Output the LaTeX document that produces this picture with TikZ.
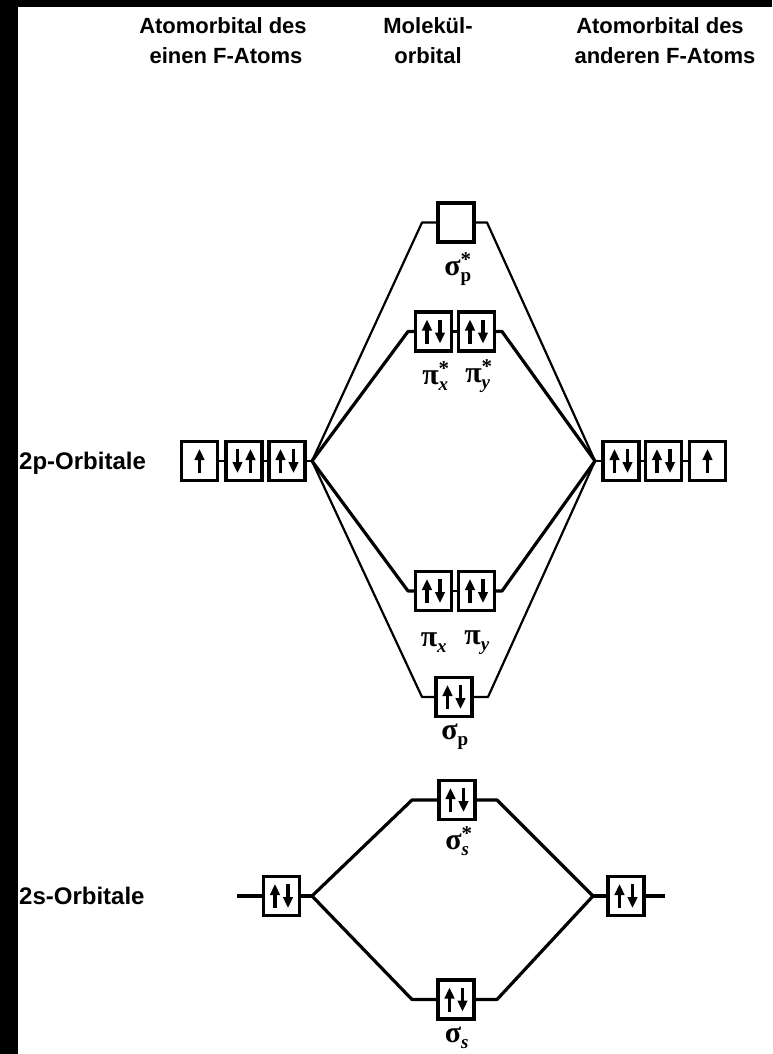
\documentclass[tikz,border=0pt]{standalone}
\usepackage{fontspec}
\setmainfont{Liberation Sans}
\newfontfamily\grf{Liberation Serif}
\usetikzlibrary{arrows.meta}
\newcommand{\molab}[3]{\fontsize{30}{32}\selectfont$\hbox{\grf\bfseries #1}_{\hbox{\grf\bfseries\fontsize{19}{19}\selectfont #2}}^{\hbox{\grf\bfseries\fontsize{21}{21}\selectfont #3}}$}
\tikzset{
  orb/.style={draw, line width=3.2pt, minimum width=36pt, minimum height=39pt, inner sep=0pt, fill=white},
  earrow/.style={line width=3.2pt, -{Triangle[width=9.5pt,length=11pt]}},
  eU/.style={path picture={\draw[earrow] ([yshift=-12pt]path picture bounding box.center) -- ++(0,24pt);}},
  eUD/.style={path picture={
      \draw[earrow] ([xshift=-6.5pt,yshift=-12pt]path picture bounding box.center) -- ++(0,24pt);
      \draw[earrow] ([xshift=6.5pt,yshift=12pt]path picture bounding box.center) -- ++(0,-24pt);}},
  eDU/.style={path picture={
      \draw[earrow] ([xshift=-6.5pt,yshift=12pt]path picture bounding box.center) -- ++(0,-24pt);
      \draw[earrow] ([xshift=6.5pt,yshift=-12pt]path picture bounding box.center) -- ++(0,24pt);}},
  hdr/.style={font=\fontsize{22}{22}\selectfont\bfseries, inner sep=0pt},
  hdrside/.style={font=\fontsize{24}{24}\selectfont\bfseries, inner sep=0pt},
  mol/.style={inner sep=0pt},
  thinline/.style={line width=2.2pt, line join=round},
  thickline/.style={line width=3.2pt, line join=round},
}
\begin{document}
\begin{tikzpicture}[x=1pt,y=-1pt]
\useasboundingbox (0,0) rectangle (772,1054);
\fill[black] (0,0) rectangle (772,1054);
\fill[white] (18,7) rectangle (772,1054);

% headers
\node[hdr, anchor=base] (h1a) at (223,34) {Atomorbital des};
\node[hdr, anchor=base] (h1b) at (226,64) {einen F-Atoms};
\node[hdr, anchor=base] (h2a) at (428,34) {Molekül-};
\node[hdr, anchor=base] (h2b) at (428,64) {orbital};
\node[hdr, anchor=base] (h3a) at (660,34) {Atomorbital des};
\node[hdr, anchor=base] (h3b) at (665,64) {anderen F-Atoms};

% side labels
\node[hdrside, anchor=base west] (l2p) at (19,469) {2p-Orbitale};
\node[hdrside, anchor=base west] (l2s) at (19,904) {2s-Orbitale};

% junction coordinates
\coordinate (L2p) at (312,461);
\coordinate (R2p) at (595,461);
\coordinate (L2s) at (312,896);
\coordinate (R2s) at (593,896);
\coordinate (spstL) at (422,222.5);
\coordinate (spstR) at (487,222.5);
\coordinate (pxstL) at (408,331.5);
\coordinate (pystR) at (502,331.5);
\coordinate (pxL) at (408,591);
\coordinate (pyR) at (502,591);
\coordinate (spL) at (422,697);
\coordinate (spR) at (488,697);
\coordinate (ssstL) at (412,800);
\coordinate (ssstR) at (497,800);
\coordinate (ssL) at (412,999.5);
\coordinate (ssR) at (497,999.5);
\coordinate (s2aL) at (237,896);
\coordinate (s2cR) at (665,896);

% orbital boxes
\node[orb,eU]  (a1) at (199.5,461) {};
\node[orb,eDU] (a2) at (244,461) {};
\node[orb,eUD] (a3) at (287,461) {};
\node[orb,eUD] (c1) at (621,461) {};
\node[orb,eUD] (c2) at (663.5,461) {};
\node[orb,eU]  (c3) at (707.5,461) {};

\node[orb]     (spst) at (456,222.5) {};
\node[orb,eUD] (pxst) at (433.5,331.5) {};
\node[orb,eUD] (pyst) at (476.5,331.5) {};
\node[orb,eUD] (px) at (433.5,591) {};
\node[orb,eUD] (py) at (476.5,591) {};
\node[orb,eUD] (sp) at (454,697) {};
\node[orb,eUD] (ssst) at (457,800) {};
\node[orb,eUD] (ss) at (456,999.5) {};
\node[orb,eUD] (s2a) at (281.5,896) {};
\node[orb,eUD] (s2c) at (626,896) {};

% connectors between boxes in a row
\draw[thinline] (a1.east) -- (a2.west);
\draw[thinline] (a2.east) -- (a3.west);
\draw[thinline] (a3.east) -- (L2p);
\draw[thinline] (R2p) -- (c1.west);
\draw[thinline] (c1.east) -- (c2.west);
\draw[thinline] (c2.east) -- (c3.west);
\draw[thinline] (pxst.east) -- (pyst.west);
\draw[thinline] (px.east) -- (py.west);

% 2p correlation lines
\draw[thinline] (L2p) -- (spstL) -- (spst.west);
\draw[thinline] (spst.east) -- (spstR) -- (R2p);
\draw[thickline] (L2p) -- (pxstL) -- (pxst.west);
\draw[thickline] (pyst.east) -- (pystR) -- (R2p);
\draw[thickline] (L2p) -- (pxL) -- (px.west);
\draw[thickline] (py.east) -- (pyR) -- (R2p);
\draw[thinline] (L2p) -- (spL) -- (sp.west);
\draw[thinline] (sp.east) -- (spR) -- (R2p);

% 2s correlation lines
\draw[thickline] (s2aL) -- (s2a.west);
\draw[thickline] (s2a.east) -- (L2s);
\draw[thickline] (L2s) -- (ssstL) -- (ssst.west);
\draw[thickline] (ssst.east) -- (ssstR) -- (R2s);
\draw[thickline] (L2s) -- (ssL) -- (ss.west);
\draw[thickline] (ss.east) -- (ssR) -- (R2s);
\draw[thickline] (R2s) -- (s2c.west);
\draw[thickline] (s2c.east) -- (s2cR);

% MO labels
\node[mol] (tspst) at (458,269) {\molab{σ}{p}{*}};
\node[mol] (tpxst) at (436,376) {\molab{π}{\itshape x}{*}};
\node[mol] (tpyst) at (479,376) {\molab{π}{\itshape y}{*}};
\node[mol] (tpx) at (434,643) {\molab{π}{\itshape x}{}};
\node[mol] (tpy) at (477,643) {\molab{π}{\itshape y}{}};
\node[mol] (tsp) at (455,737) {\molab{σ}{p}{}};
\node[mol] (tssst) at (459,841) {\molab{σ}{\itshape s}{*}};
\node[mol] (tss) at (457,1038) {\molab{σ}{\itshape s}{}};
\end{tikzpicture}
\end{document}
